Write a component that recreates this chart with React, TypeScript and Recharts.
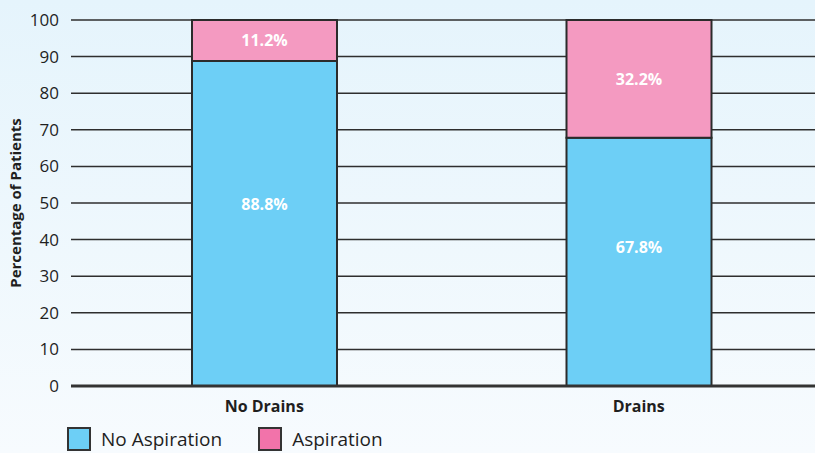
import React from "react";
import { BarChart, Bar, XAxis, YAxis, CartesianGrid, Legend, LabelList } from "recharts";

const categories = ["No Drains", "Drains"];
const noAspiration = [88.8, 67.8];
const aspiration = [11.2, 32.2];
const yTicks = [0, 10, 20, 30, 40, 50, 60, 70, 80, 90, 100];

const BLUE = "#6dcff6";
const PINK = "#f49ac1";
const INK = "#1f1f1f";
const FONT = "'Open Sans', 'Noto Sans', sans-serif";

const data = categories.map((name, i) => ({
  name,
  noAspiration: noAspiration[i],
  aspiration: aspiration[i],
}));

// value label placed inside a stacked segment; blue ones sit a bit above centre
function segmentLabel(ratio: number) {
  return (props: any) => {
    const { x, y, width, height, value } = props;
    return (
      <text
        x={x + width / 2}
        y={y + height * ratio}
        fill="#fff"
        fontSize={16}
        fontWeight={700}
        fontFamily={FONT}
        textAnchor="middle"
        dominantBaseline="central"
      >
        {`${value}%`}
      </text>
    );
  };
}

function LegendBox() {
  const items = [
    { label: "No Aspiration", color: BLUE },
    { label: "Aspiration", color: "#f273aa" },
  ];
  return (
    <div style={{ display: "flex", alignItems: "center", paddingLeft: 67, paddingTop: 11, fontFamily: FONT }}>
      {items.map((it) => (
        <div key={it.label} style={{ display: "flex", alignItems: "center", marginRight: 36 }}>
          <span
            style={{
              width: 20,
              height: 20,
              background: it.color,
              border: `2px solid #333`,
              display: "inline-block",
              marginRight: 10,
            }}
          />
          <span style={{ fontSize: 19, lineHeight: "22px", color: INK }}>{it.label}</span>
        </div>
      ))}
    </div>
  );
}

export default function App() {
  return (
    <div
      style={{
        position: "absolute",
        top: 0,
        left: 0,
        width: 815,
        height: 453,
        overflow: "hidden",
        background: "linear-gradient(to bottom, #e5f4fc, #f7fbfe)",
      }}
    >
      <BarChart width={826} height={453} data={data} margin={{ top: 20, right: 0, left: 0, bottom: 0 }}>
        <CartesianGrid vertical={false} stroke="#2e2e2e" strokeWidth={1.5} />
        <XAxis
          dataKey="name"
          height={30}
          padding={{ left: 6, right: 0 }}
          axisLine={{ stroke: "#333", strokeWidth: 3 }}
          tickLine={false}
          tick={{ fill: INK, fontSize: 16, fontWeight: 700, fontFamily: FONT }}
          tickMargin={9}
        />
        <YAxis
          width={71}
          domain={[0, 100]}
          ticks={yTicks}
          axisLine={false}
          tickLine={false}
          tick={{ fill: INK, fontSize: 17, fontFamily: FONT }}
          tickMargin={6}
          label={{
            value: "Percentage of Patients",
            angle: -90,
            position: "insideLeft",
            offset: 16,
            style: { fill: INK, fontSize: 15, fontWeight: 700, fontFamily: FONT, textAnchor: "middle" },
          }}
        />
        <Legend verticalAlign="bottom" height={37} content={() => <LegendBox />} />
        <Bar
          dataKey="noAspiration"
          stackId="a"
          fill={BLUE}
          stroke="#2b2b2b"
          strokeWidth={2}
          barSize={145}
          isAnimationActive={false}
        >
          <LabelList dataKey="noAspiration" content={segmentLabel(0.44)} />
        </Bar>
        <Bar
          dataKey="aspiration"
          stackId="a"
          fill={PINK}
          stroke="#2b2b2b"
          strokeWidth={2}
          barSize={145}
          isAnimationActive={false}
        >
          <LabelList dataKey="aspiration" content={segmentLabel(0.5)} />
        </Bar>
      </BarChart>
    </div>
  );
}
